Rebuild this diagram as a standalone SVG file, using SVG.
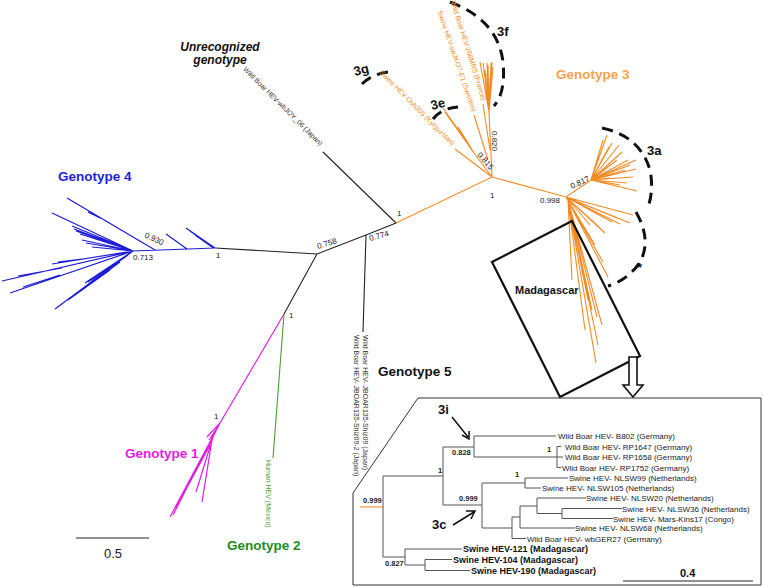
<svg xmlns="http://www.w3.org/2000/svg" width="763" height="587" viewBox="0 0 763 587">
<style>
text{font-family:"Liberation Sans",Arial,sans-serif}
.g{font-weight:bold;font-size:13.5px}
.lab{font-size:8px;fill:#222}
.leaf{font-size:7px}
.in{font-size:8px;fill:#222}
.inb{font-size:9px;font-weight:bold;fill:#111}
.bs{font-size:7.5px;font-weight:bold;fill:#222}
.blk{stroke:#222;stroke-width:1.1;fill:none}
.blue{stroke:#1c1cd6;stroke-width:1.2;fill:none}
.mag{stroke:#e01ee0;stroke-width:1.2;fill:none}
.grn{stroke:#4aa02c;stroke-width:1.1;fill:none}
.org{stroke:#f28a24;stroke-width:1.1;fill:none}
.dash{stroke:#111;stroke-width:3;fill:none;stroke-dasharray:11 7}
.box{stroke:#111;stroke-width:2.2;fill:none}
.it{stroke:#555;stroke-width:1;fill:none}
.cl{font-weight:bold;font-size:13px;fill:#111}
</style>
<rect width="763" height="587" fill="#fff"/>

<g id="connectors">
  <!-- backbone -->
  <path class="blk" d="M215,248 L317,254 L366,235 L396,223 M317,254 L284,314 M366,235 L363,332 M396,223 L323,152"/>
  <!-- genotype 4 -->
  <path class="blue" d="M215,248 L133,251 M215,248 L186,228 M214,248 L190,231 M212,247 L195,235 M187,249 L166,234 M155,250 L67,198 M100,218 L88,212
  M133,251 L52,213 M133,251 L72,226 M133,251 L74,229 M133,251 L76,231 M133,251 L80,234 M133,251 L82,240 M133,251 L86,243 M133,251 L92,247
  M133,251 L52,264 M90,258 L58,262 M133,251 L2,281 M62,268 L18,276 M133,251 L10,293 M60,275 L23,287 M133,251 L55,309 M133,251 L85,283 M130,253 L88,282 M128,255 L92,281 M120,262 L75,295 M110,270 L68,300"/>
  <!-- genotype 1 -->
  <path class="mag" d="M284,314 L220,423 M220,423 L207,437 M219,425 L209,440 M216,430 L205,452 M220,423 L170,517 M218,427 L173,515 M214,434 L196,492 M212,440 L202,502 M210,445 L176,508"/>
  <!-- genotype 2 -->
  <path class="grn" d="M284,314 L273,458"/>
  <!-- genotype 3 -->
  <path class="org" d="M396,223 L492,177 L566,197 L591,180 M492,177 L474,153 M492,177 L455,149 M492,177 L489,112 M490,150 L483,104 M488,160 L474,115
  M474,153 L443,108 M474,153 L445,112 M474,153 L447,115 M474,153 L450,118 M474,153 L452,121 M474,153 L455,125 M474,153 L458,127 M474,153 L460,130 M474,153 L465,138
  M489,112 L480,62 M489,112 L483,63 M489,112 L487,63 M489,112 L488,65 M489,112 L491,63 M489,112 L492,62 M489,112 L493,67 M489,112 L487,73 M489,112 L488,87 M489,112 L485,70 M489,112 L490,78
  M591,180 L607,135 M591,180 L603,140 M591,180 L612,143 M591,180 L619,145 M591,180 L615,150 M591,180 L622,152 M591,180 L628,160 M591,180 L636,160 M591,180 L630,165 M591,180 L636,169 M591,180 L625,170 M591,180 L633,177 M591,180 L627,183 M591,180 L637,191 M591,180 L620,185 M591,180 L610,178 M591,180 L609,147 M591,180 L617,160
  M566,197 L633,215 M566,197 L630,223 M566,197 L617,218 M566,197 L612,222 M566,197 L600,228 M566,197 L605,233 M566,197 L590,225 M566,197 L608,277 M566,197 L603,262 M566,197 L595,245 M566,197 L585,230 M566,197 L620,224
  M568,200 L572,280 M568,200 L596,363 M568,200 L602,325 M568,200 L597,317 M568,200 L592,310 M568,200 L598,345 M568,200 L588,300 M568,200 L585,330 M568,200 L580,260"/>
  <!-- dashed clade arcs -->
  <path class="dash" d="M362,84 Q372,74 388,72"/>
  <path class="dash" d="M433,119 Q442,108 458,107"/>
  <path class="dash" d="M450,2 Q498,20 503,62 Q506,92 494,106"/>
  <path class="dash" d="M602,128 Q640,136 650,170 Q654,190 648,207"/>
  <path class="dash" d="M636,212 Q652,240 640,262 Q628,280 608,286"/>
  <!-- Madagascar box and arrow -->
  <path class="box" d="M572,221 L640,356 L560,397 L492,262 Z"/>
  <path stroke="#111" stroke-width="1.6" fill="#fff" d="M629,357 L637,357 L637,385 L643,385 L633,397 L623,385 L629,385 Z"/>
  <!-- inset frame -->
  <path stroke="#333" stroke-width="1" fill="none" d="M418,398 L761,398 L761,585 L353,585 L353,493 Z"/>
  <!-- main scale bar -->
  <path stroke="#222" stroke-width="1.2" d="M76,538 L149,538"/>
  <!-- inset tree -->
  <path class="org" d="M360,507 L383,507"/>
  <path class="it" d="M383,476 L383,557 M383,476 L443,476 M443,447 L443,505 M443,447 L474,447 M474,436 L474,457 M474,436 L556,436 M474,457 L557,457 M557,446.5 L557,467.5 M557,446.5 L561,446.5 M557,467.5 L561,467.5 M557,457 L563,457
  M443,505 L482,505 M482,483 L482,528 M482,483 L525,483 M525,478 L525,488 M525,478 L568,478 M525,488 L541,488
  M482,528 L512,528 M512,517 L512,538.5 M512,538.5 L526,538.5 M512,517 L520,517 M520,506 L520,528 M520,528 L575,528 M520,506 L537,506 M537,498 L537,513.5 M537,498 L586,498 M537,513.5 L562,513.5 M562,508.5 L562,518.5 M562,508.5 L622,508.5 M562,518.5 L613,518.5
  M383,557 L405,557 M405,549 L405,565 M405,549 L462,549 M405,565 L425,565 M425,559.5 L425,570.5 M425,559.5 L452,559.5 M425,570.5 L470,570.5"/>
  <path stroke="#222" stroke-width="1.2" d="M623,581 L753,581"/>
  <!-- inset arrows -->
  <path stroke="#111" stroke-width="1.5" fill="none" d="M452,417 L468,437 M462,435 L469,439 L469,431"/>
  <path stroke="#111" stroke-width="1.5" fill="none" d="M453,525 L474,512 M466,511 L475,511 L471,519"/>
</g>

<g id="labels-main">
  <text class="lab" x="216" y="258">1</text>
  <text class="lab" x="133" y="260">0.713</text>
  <text class="lab" transform="translate(144,237) rotate(25)">0.930</text>
  <text class="lab" transform="translate(318,249) rotate(-17)">0.758</text>
  <text class="lab" transform="translate(370,241) rotate(-15)">0.774</text>
  <text class="lab" x="397" y="216">1</text>
  <text class="lab" x="289" y="318">1</text>
  <text class="lab" x="214" y="419">1</text>
  <text class="lab" x="490" y="198">1</text>
  <text class="lab" x="540" y="203">0.998</text>
  <text class="lab" transform="translate(572,189) rotate(-25)">0.817</text>
  <text class="lab" transform="translate(477,155) rotate(50)">0.815</text>
  <text class="lab" transform="translate(492,131) rotate(90)">0.820</text>
</g>

<g id="leaf-labels">
  <text class="leaf" fill="#333" text-anchor="end" transform="translate(320,146) rotate(44.6)">Wild Boar HEV-wbJOY_06 (Japan)</text>
  <text class="leaf" fill="#333" transform="translate(363,335) rotate(90)">Wild Boar HEV- JBOAR135-Shiz09 (Japan)</text>
  <text class="leaf" fill="#333" transform="translate(354,335) rotate(90)">Wild Boar HEV- JBOAR135-Shiz09-2 (Japan)</text>
  <text class="leaf" fill="#4aa02c" transform="translate(266,460) rotate(90)">Human HEV (Mexico)</text>
  <text class="leaf" fill="#f28a24" text-anchor="end" transform="translate(452,146) rotate(45)">Swine HEV-Osh205 (Kyrgyzstan)</text>
  <text class="leaf" fill="#f28a24" text-anchor="end" transform="translate(482,101) rotate(72.5)">Wild Boar HEV-266MRS (France)</text>
  <text class="leaf" fill="#f28a24" text-anchor="end" transform="translate(472,112) rotate(71)">Swine HEV-swJKO7-E1 (Sweden)</text>
</g>

<g id="genotype-labels">
  <text class="g" x="58" y="181" fill="#1f1fd6">Genotype 4</text>
  <text class="g" x="125" y="458" fill="#e01ee0">Genotype 1</text>
  <text class="g" x="227" y="550" fill="#1e8c1e">Genotype 2</text>
  <text class="g" x="556" y="79" fill="#f4a250">Genotype 3</text>
  <text class="g" x="378" y="376" fill="#111">Genotype 5</text>
  <text font-size="12" font-weight="bold" font-style="italic" fill="#111" text-anchor="middle" x="220" y="51">Unrecognized</text>
  <text font-size="12" font-weight="bold" font-style="italic" fill="#111" text-anchor="middle" x="220" y="64">genotype</text>
  <text class="cl" x="497" y="36">3f</text>
  <text class="cl" transform="translate(432,110) rotate(-15)">3e</text>
  <text class="cl" transform="translate(355,76) rotate(-15)">3g</text>
  <text class="cl" x="647" y="155">3a</text>
  <text class="cl" x="637" y="272">*</text>
  <text font-size="11" font-weight="bold" fill="#111" x="515" y="294">Madagascar</text>
  <text font-size="13" fill="#222" x="104" y="558">0.5</text>
</g>

<g id="inset">
  <text class="cl" font-size="14" x="438" y="414">3i</text>
  <text class="cl" font-size="14" x="432" y="529">3c</text>
  <text class="bs" x="363" y="503">0.999</text>
  <text class="bs" x="438" y="473">1</text>
  <text class="bs" x="452" y="455">0.828</text>
  <text class="bs" x="547" y="452">1</text>
  <text class="bs" x="459" y="501">0.999</text>
  <text class="bs" x="515" y="477">1</text>
  <text class="bs" x="385" y="566">0.827</text>
  <text class="in" x="558" y="439">Wild Boar HEV- B802 (Germany)</text>
  <text class="in" x="565" y="449.5">Wild Boar HEV- RP1647 (Germany)</text>
  <text class="in" x="565" y="460">Wild Boar HEV- RP1658 (Germany)</text>
  <text class="in" x="562" y="470.5">Wild Boar HEV- RP1752 (Germany)</text>
  <text class="in" x="569" y="481">Swine HEV- NLSW99 (Netherlands)</text>
  <text class="in" x="542" y="491">Swine HEV- NLSW105 (Netherlands)</text>
  <text class="in" x="586" y="501">Swine HEV- NLSW20 (Netherlands)</text>
  <text class="in" x="622" y="511.5">Swine HEV- NLSW36 (Netherlands)</text>
  <text class="in" x="613" y="521.5">Swine HEV- Mars-Kins17 (Congo)</text>
  <text class="in" x="575" y="531">Swine HEV- NLSW68 (Netherlands)</text>
  <text class="in" x="527" y="541.5">Wild Boar HEV- wbGER27 (Germany)</text>
  <text class="inb" x="463" y="552">Swine HEV-121 (Madagascar)</text>
  <text class="inb" x="453" y="562.5">Swine HEV-104 (Madagascar)</text>
  <text class="inb" x="471" y="573.5">Swine HEV-190 (Madagascar)</text>
  <text font-size="11" font-weight="bold" fill="#111" x="680" y="577">0.4</text>
</g>
</svg>
